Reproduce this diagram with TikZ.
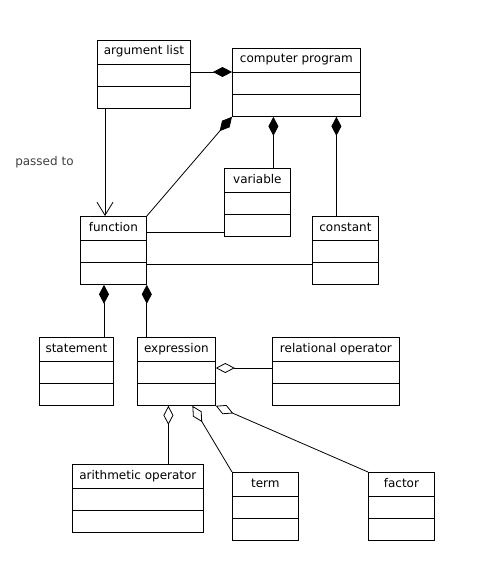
\documentclass[tikz,border=0pt]{standalone}
\usepackage{fontspec}
\setmainfont{DejaVu Sans}
\usepackage{tikz}
\usetikzlibrary{arrows.meta,calc}

% one class box: name, left, top, width, title
\newcommand{\umlclass}[5]{%
  \node[classbox, minimum width=#4pt, anchor=north west] (#1) at (#2,#3) {};
  \node[classtitle] at ([yshift=-15pt]#1.north) {#5};
  \draw ([yshift=-24pt]#1.north west) -- ([yshift=-24pt]#1.north east);
  \draw ([yshift=-46pt]#1.north west) -- ([yshift=-46pt]#1.north east);
}

\begin{document}
\begin{tikzpicture}[
    x=1pt, y=-1pt, line width=0.8pt,
    classbox/.style={rectangle, draw, minimum height=68pt, inner sep=0pt},
    classtitle/.style={anchor=base, inner sep=0pt, font=\fontsize{12}{14}\selectfont},
    labeltext/.style={inner sep=0pt, text=black!75, font=\fontsize{12}{14}\selectfont},
    composition/.style={-{Diamond[length=19pt,width=10pt]}},
    aggregation/.style={-{Diamond[open,length=19pt,width=10pt]}},
    passes/.style={-{Straight Barb[length=13pt,width=16pt]}}
]
    \useasboundingbox (0,0) rectangle (498,578);

    % Program level
    \umlclass{arglist}{97}{40}{93}{argument list}
    \umlclass{compprog}{232}{48}{128}{computer program}
    \umlclass{variable}{224}{168}{66}{variable}
    \umlclass{function}{80}{216}{66}{function}
    \umlclass{constant}{312}{216}{66}{constant}

    % Function level
    \umlclass{statement}{39}{337}{74}{statement}
    \umlclass{expression}{137}{337}{78}{expression}
    \umlclass{relational}{272}{337}{127}{relational operator}

    % Expression level
    \umlclass{arithmetic}{72}{464}{131}{arithmetic operator}
    \umlclass{term}{232}{472}{66}{term}
    \umlclass{factor}{368}{472}{66}{factor}

    % Parts of the computer program
    \coordinate (cpw) at ([yshift=-24pt]compprog.north west);
    \draw[composition] (arglist.east |- cpw) -- (cpw);
    \draw[composition] (function.north east) -- (compprog.south west);
    \coordinate (vn) at ([xshift=16pt]variable.north);
    \draw[composition] (vn) -- (vn |- compprog.south);
    \coordinate (cn) at ([xshift=-9pt]constant.north);
    \draw[composition] (cn) -- (cn |- compprog.south);

    % Argument list to function
    \coordinate (as) at ([xshift=8pt]arglist.south west);
    \draw[passes] (as) -- node[midway, left=31pt, labeltext] {passed to} (as |- function.north);

    % Function uses variables and constants
    \coordinate (fv) at ([yshift=-16pt]function.north east);
    \draw (fv) -- (fv -| variable.west);
    \coordinate (fc) at ([yshift=-48pt]function.north east);
    \draw (fc) -- (fc -| constant.west);

    % Parts of a function
    \coordinate (fs) at ([xshift=24pt]function.south west);
    \draw[composition] (fs |- statement.north) -- (fs);
    \draw[composition] (function.south east |- expression.north) -- (function.south east);

    % Parts of an expression
    \coordinate (er) at ([yshift=-31pt]expression.north east);
    \draw[aggregation] (er -| relational.west) -- (er);
    \coordinate (ea) at ([xshift=-8pt]expression.south);
    \draw[aggregation] (ea |- arithmetic.north) -- (ea);
    \draw[aggregation] (term.north west) -- ([xshift=16pt]expression.south);
    \draw[aggregation] (factor.north west) -- (expression.south east);
\end{tikzpicture}
\end{document}
